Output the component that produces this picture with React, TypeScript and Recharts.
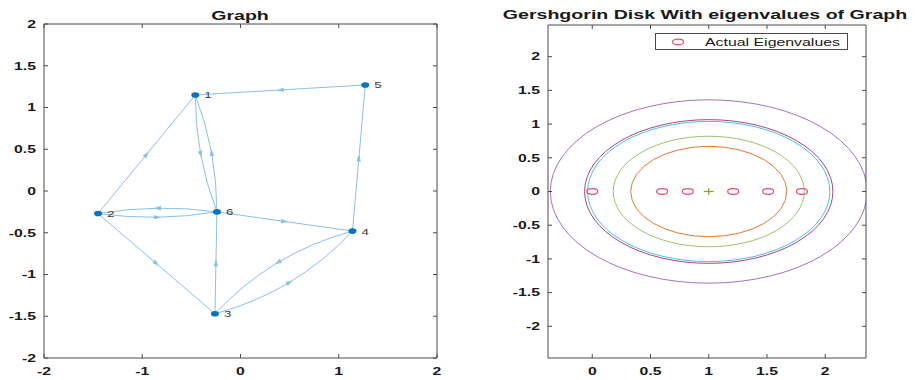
import React from 'react';
import { ScatterChart, Scatter, XAxis, YAxis, ReferenceArea, Legend } from 'recharts';

// ---------------- data ----------------
const nodeIds = [1, 2, 3, 4, 5, 6];
const nodeX = [-0.46, -1.45, -0.26, 1.14, 1.27, -0.24];
const nodeY = [1.15, -0.27, -1.47, -0.48, 1.27, -0.25];
const edgeFrom = [5, 2, 1, 6, 4, 2, 6, 6, 2, 3, 3, 4];
const edgeTo = [1, 1, 6, 1, 5, 6, 2, 4, 3, 6, 4, 3];
const graphXTicks = [-2, -1, 0, 1, 2];
const graphYTicks = [-2, -1.5, -1, -0.5, 0, 0.5, 1, 1.5, 2];

const diskCenters = [1, 1, 1, 1, 1];
const diskRadii = [0.67, 0.82, 1.04, 1.066, 1.36];
const eigenvalues = [0, 0.6, 0.82, 1.21, 1.51, 1.8];
const diskXTicks = [0, 0.5, 1, 1.5, 2];
const diskYTicks = [-2, -1.5, -1, -0.5, 0, 0.5, 1, 1.5, 2];

// ---------------- styles ----------------
const AXIS = '#4a4a4a';
const TEXT = '#1a1a1a';
const FONT = '"Liberation Sans", Arial, Helvetica, sans-serif';
const SX = 1.5;
const EDGE = '#8cc1e4';
const NODE = '#0b72bd';
const RED = '#e0506a';
const diskColors = ['#e07a3a', '#9dc46b', '#4dbeee', '#a84a78', '#a274ba'];
const edgeBend: Record<string, number> = {
  '1-6': 5.5, '6-1': 5.5, '2-6': 4.5, '6-2': 4.5, '3-4': 11.5, '4-3': 11.5,
};

const nodeData = nodeIds.map((id, i) => ({ id, x: nodeX[i], y: nodeY[i] }));
const eigData = eigenvalues.map((v) => ({ x: v, y: 0 }));
const centerData = [{ x: diskCenters[0], y: 0 }];

const fmt = (v: number) => String(v);

function BottomTick(props: any) {
  const { x, y, payload } = props;
  return (
    <g>
      <line x1={x} x2={x} y1={y} y2={y - 4} stroke={AXIS} strokeWidth={1} />
      <text transform={`translate(${x},${y + 17}) scale(${SX},1)`} textAnchor="middle" fontSize={10.5}
        fontWeight="bold" fill={TEXT} fontFamily={FONT}>{fmt(payload.value)}</text>
    </g>
  );
}
function TopTick(props: any) {
  const { x, y } = props;
  return <line x1={x} x2={x} y1={y} y2={y + 4} stroke={AXIS} strokeWidth={1} />;
}
function LeftTick(props: any) {
  const { x, y, payload } = props;
  return (
    <g>
      <line x1={x} x2={x + 4} y1={y} y2={y} stroke={AXIS} strokeWidth={1} />
      <text transform={`translate(${x - 8},${y + 3.8}) scale(${SX},1)`} textAnchor="end" fontSize={10.5}
        fontWeight="bold" fill={TEXT} fontFamily={FONT}>{fmt(payload.value)}</text>
    </g>
  );
}
function RightTick(props: any) {
  const { x, y } = props;
  return <line x1={x} x2={x - 4} y1={y} y2={y} stroke={AXIS} strokeWidth={1} />;
}

const Empty = () => <g />;

function EdgePath({ points, bend }: { points: any[]; bend: number }) {
  if (!points || points.length < 2) return null;
  const [a, b] = points;
  const dx = b.x - a.x;
  const dy = b.y - a.y;
  const len = Math.hypot(dx, dy) || 1;
  const ux = dx / len;
  const uy = dy / len;
  const nx = -uy;
  const ny = ux;
  const midX = (a.x + b.x) / 2;
  const midY = (a.y + b.y) / 2;
  const cX = midX + nx * bend * 2;
  const cY = midY + ny * bend * 2;
  const mX = midX + nx * bend;
  const mY = midY + ny * bend;
  const L = 3.5;
  const W = 2.3;
  const tip = `${mX + ux * L},${mY + uy * L}`;
  const b1 = `${mX - ux * L + nx * W},${mY - uy * L + ny * W}`;
  const b2 = `${mX - ux * L - nx * W},${mY - uy * L - ny * W}`;
  return (
    <g>
      <path d={`M${a.x},${a.y} Q${cX},${cY} ${b.x},${b.y}`} fill="none" stroke={EDGE} strokeWidth={1} />
      <polygon points={`${tip} ${b1} ${b2}`} fill={EDGE} />
    </g>
  );
}

const NodeShape = (p: any) => (
  <g>
    <ellipse cx={p.cx} cy={p.cy} rx={4} ry={2.8} fill={NODE} />
    <text transform={`translate(${p.cx + 9},${p.cy + 3.5}) scale(1.4,1)`} fontSize={9.5} fill="#3a3a3a"
      fontFamily={FONT}>{p.payload.id}</text>
  </g>
);

const EigShape = (p: any) => (
  <ellipse cx={p.cx} cy={p.cy} rx={5.5} ry={2.8} fill="none" stroke={RED} strokeWidth={1.2} />
);

const PlusShape = (p: any) => (
  <g stroke="#77ac30" strokeWidth={1.2}>
    <line x1={p.cx - 5} x2={p.cx + 5} y1={p.cy} y2={p.cy} />
    <line x1={p.cx} x2={p.cx} y1={p.cy - 3.5} y2={p.cy + 3.5} />
  </g>
);

const LegendBox = () => (
  <div style={{ position: 'relative', width: 191, height: 15, border: `1px solid ${AXIS}`, background: '#fff' }}>
    <svg width={14} height={8} style={{ position: 'absolute', left: 15, top: 3.5 }}>
      <ellipse cx={7} cy={4} rx={5.5} ry={2.8} fill="none" stroke={RED} strokeWidth={1.2} />
    </svg>
    <span style={{
      position: 'absolute', left: 49, top: 1, fontSize: 11.5, lineHeight: '15px', fontFamily: FONT,
      transform: 'scaleX(1.38)', transformOrigin: 'left center', whiteSpace: 'nowrap', color: TEXT,
    }}>Actual Eigenvalues</span>
  </div>
);

const axisLine = { stroke: AXIS, strokeWidth: 1 };

export default function App() {
  return (
    <div style={{ position: 'absolute', left: 0, top: 0, width: 920, height: 380, background: '#fff', overflow: 'hidden' }}>
      <div style={{
        position: 'absolute', left: 240, top: 7.5, fontSize: 13.5, lineHeight: '16px', fontWeight: 'bold',
        fontFamily: FONT, color: TEXT, whiteSpace: 'nowrap', transform: 'translateX(-50%) scaleX(1.45)',
      }}>Graph</div>
      <div style={{
        position: 'absolute', left: 704.5, top: 7, fontSize: 13.5, lineHeight: '16px', fontWeight: 'bold',
        fontFamily: FONT, color: TEXT, whiteSpace: 'nowrap', transform: 'translateX(-50%) scaleX(1.45)',
      }}>Gershgorin Disk With eigenvalues of Graph</div>

      <div style={{ position: 'absolute', left: 0, top: 0 }}>
        <ScatterChart width={460} height={380} margin={{ top: 23, right: 22, bottom: 0, left: 0 }}>
          <XAxis type="number" dataKey="x" domain={[-2, 2]} ticks={graphXTicks} allowDataOverflow interval={0}
            height={22} tickSize={0} tickMargin={0} tickLine={false} axisLine={axisLine} tick={<BottomTick />} />
          <XAxis xAxisId="top" orientation="top" type="number" dataKey="x" domain={[-2, 2]} ticks={graphXTicks}
            allowDataOverflow interval={0} height={1} tickSize={0} tickMargin={0} tickLine={false} axisLine={axisLine}
            tick={<TopTick />} />
          <YAxis type="number" dataKey="y" domain={[-2, 2]} ticks={graphYTicks} allowDataOverflow interval={0}
            width={44} tickSize={0} tickMargin={0} tickLine={false} axisLine={axisLine} tick={<LeftTick />} />
          <YAxis yAxisId="right" orientation="right" type="number" dataKey="y" domain={[-2, 2]} ticks={graphYTicks}
            allowDataOverflow interval={0} width={1} tickSize={0} tickMargin={0} tickLine={false} axisLine={axisLine}
            tick={<RightTick />} />
          <Scatter xAxisId="top" yAxisId="right" data={nodeData} shape={Empty} isAnimationActive={false} />
          {edgeFrom.map((f, i) => {
            const t = edgeTo[i];
            const data = [
              { x: nodeX[f - 1], y: nodeY[f - 1] },
              { x: nodeX[t - 1], y: nodeY[t - 1] },
            ];
            const bend = edgeBend[`${f}-${t}`] ?? 0;
            return (
              <Scatter key={`e${i}`} data={data} isAnimationActive={false} lineType="joint" shape={Empty}
                line={(p: any) => <EdgePath points={p.points} bend={bend} />} />
            );
          })}
          <Scatter data={nodeData} shape={NodeShape} isAnimationActive={false} />
        </ScatterChart>
      </div>

      <div style={{ position: 'absolute', left: 460, top: 0 }}>
        <ScatterChart width={460} height={380} margin={{ top: 24, right: 53, bottom: 0, left: 0 }}>
          <XAxis type="number" dataKey="x" domain={[-0.38, 2.35]} ticks={diskXTicks} allowDataOverflow interval={0}
            height={22} tickSize={0} tickMargin={0} tickLine={false} axisLine={axisLine} tick={<BottomTick />} />
          <XAxis xAxisId="top" orientation="top" type="number" dataKey="x" domain={[-0.38, 2.35]} ticks={diskXTicks}
            allowDataOverflow interval={0} height={1} tickSize={0} tickMargin={0} tickLine={false} axisLine={axisLine}
            tick={<TopTick />} />
          <YAxis type="number" dataKey="y" domain={[-2.47, 2.47]} ticks={diskYTicks} allowDataOverflow interval={0}
            width={88} tickSize={0} tickMargin={0} tickLine={false} axisLine={axisLine} tick={<LeftTick />} />
          <YAxis yAxisId="right" orientation="right" type="number" dataKey="y" domain={[-2.47, 2.47]} ticks={diskYTicks}
            allowDataOverflow interval={0} width={1} tickSize={0} tickMargin={0} tickLine={false} axisLine={axisLine}
            tick={<RightTick />} />
          <Scatter xAxisId="top" yAxisId="right" data={eigData} shape={Empty} isAnimationActive={false} legendType="none" />
          {diskRadii.map((r, i) => (
            <ReferenceArea key={`d${i}`} x1={diskCenters[i] - r} x2={diskCenters[i] + r} y1={-r} y2={r}
              ifOverflow="hidden"
              shape={(p: any) => (
                <ellipse cx={p.x + p.width / 2} cy={p.y + p.height / 2} rx={Math.abs(p.width) / 2}
                  ry={Math.abs(p.height) / 2} fill="none" stroke={diskColors[i]} strokeWidth={1}
                  clipPath={p.clipPath} />
              )} />
          ))}
          <Scatter data={centerData} shape={PlusShape} isAnimationActive={false} legendType="none" />
          <Scatter name="Actual Eigenvalues" data={eigData} shape={EigShape} isAnimationActive={false} />
          <Legend layout="horizontal" verticalAlign="middle" align="center" content={<LegendBox />}
            wrapperStyle={{ left: 195, top: 33, width: 193, height: 17 }} />
        </ScatterChart>
      </div>
    </div>
  );
}
